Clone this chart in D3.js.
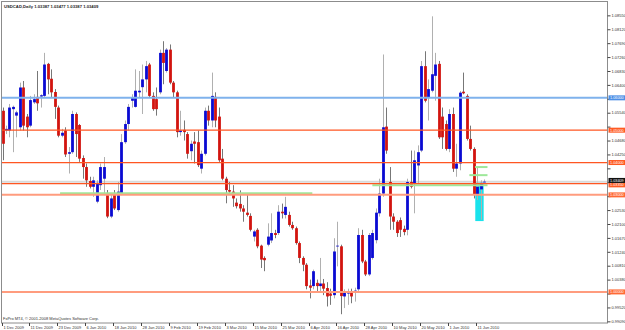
<!DOCTYPE html>
<html>
<head>
<meta charset="utf-8">
<script src="https://cdnjs.cloudflare.com/ajax/libs/d3/7.8.5/d3.min.js"></script>
<style>
  body { margin: 0; background: #fff; }
  svg { display: block; }
  text { font-family: "Liberation Sans", Arial, sans-serif; }
</style>
</head>
<body>
<div id="chart"></div>
<script>
// daily bars, USDCAD 1 Dec 2009 .. 15 Jun 2010
var opens = [1.0560,1.0499,1.0499,1.0565,1.0545,1.0509,1.0632,1.0542,1.0514,1.0586,
  1.0603,1.0604,1.0606,1.0705,1.0659,1.0618,1.0570,1.0483,1.0499,1.0427,
  1.0432,1.0550,1.0516,1.0414,1.0386,1.0343,1.0325,1.0279,1.0330,1.0350,
  1.0304,1.0233,1.0304,1.0253,1.0304,1.0463,1.0519,1.0591,1.0572,1.0617,
  1.0633,1.0657,1.0703,1.0606,1.0596,1.0617,1.0739,1.0683,1.0749,1.0647,
  1.0617,1.0494,1.0501,1.0488,1.0435,1.0465,1.0463,1.0381,1.0427,1.0560,
  1.0530,1.0603,1.0542,1.0412,1.0350,1.0315,1.0310,1.0276,1.0272,1.0258,
  1.0245,1.0235,1.0171,1.0192,1.0143,1.0105,1.0146,1.0159,1.0182,1.0182,
  1.0248,1.0238,1.0238,1.0207,1.0197,1.0151,1.0105,1.0084,1.0020,1.0018,
  1.0028,1.0018,1.0026,1.0012,0.9995,0.9990,1.0141,1.0141,0.9986,0.9995,
  1.0001,0.9998,1.0008,1.0176,1.0094,1.0054,1.0105,1.0160,1.0243,1.0304,
  1.0511,1.0340,1.0233,1.0217,1.0222,1.0195,1.0192,1.0340,1.0335,1.0391,
  1.0437,1.0698,1.0601,1.0622,1.0668,1.0705,1.0542,1.0519,1.0442,1.0550,
  1.0381,1.0397,1.0619,1.0606,1.0473,1.0442,1.0299,1.0317,1.03387];
var highs = [1.0570,1.0514,1.0581,1.0576,1.0560,1.0647,1.0652,1.0550,1.0606,1.0611,
  1.0683,1.0611,1.0739,1.0708,1.0688,1.0627,1.0576,1.0504,1.0509,1.0448,
  1.0560,1.0555,1.0519,1.0422,1.0397,1.0356,1.0356,1.0345,1.0397,1.0417,
  1.0315,1.0304,1.0315,1.0340,1.0488,1.0530,1.0581,1.0611,1.0688,1.0683,
  1.0703,1.0714,1.0708,1.0617,1.0632,1.0749,1.0775,1.0754,1.0765,1.0652,
  1.0622,1.0560,1.0530,1.0494,1.0468,1.0494,1.0499,1.0437,1.0570,1.0576,
  1.0678,1.0617,1.0570,1.0442,1.0356,1.0340,1.0330,1.0289,1.0314,1.0268,
  1.0304,1.0243,1.0192,1.0197,1.0146,1.0110,1.0212,1.0243,1.0192,1.0268,
  1.0273,1.0294,1.0248,1.0217,1.0202,1.0156,1.0110,1.0089,1.0038,1.0069,
  1.0038,1.0105,1.0040,1.0030,1.0010,1.0166,1.0217,1.0146,1.0008,1.0010,
  1.0010,1.0013,1.0197,1.0192,1.0099,1.0182,1.0192,1.0258,1.0350,1.0734,
  1.0570,1.0386,1.0243,1.0222,1.0230,1.0205,1.0350,1.0437,1.0437,1.0453,
  1.0714,1.0744,1.0657,1.0852,1.0739,1.0714,1.0570,1.0530,1.0565,1.0570,
  1.0458,1.0621,1.0678,1.0611,1.0514,1.0447,1.0386,1.0345,1.03477];
var lows = [1.0407,1.0488,1.0478,1.0432,1.0478,1.0499,1.0499,1.0478,1.0509,1.0581,
  1.0560,1.0570,1.0601,1.0611,1.0601,1.0535,1.0478,1.0478,1.0417,1.0366,
  1.0427,1.0417,1.0402,1.0350,1.0325,1.0320,1.0294,1.0274,1.0315,1.0299,
  1.0228,1.0228,1.0253,1.0248,1.0299,1.0458,1.0499,1.0570,1.0570,1.0601,
  1.0550,1.0617,1.0601,1.0560,1.0545,1.0611,1.0642,1.0678,1.0642,1.0601,
  1.0478,1.0483,1.0468,1.0412,1.0407,1.0397,1.0386,1.0366,1.0422,1.0514,
  1.0509,1.0509,1.0402,1.0345,1.0274,1.0304,1.0263,1.0258,1.0248,1.0217,
  1.0233,1.0187,1.0156,1.0135,1.0074,1.0064,1.0141,1.0151,1.0166,1.0176,
  1.0227,1.0227,1.0202,1.0192,1.0146,1.0089,1.0064,1.0008,0.9980,1.0008,
  1.0002,0.9997,0.9990,0.9955,0.9960,0.9980,1.0079,0.9931,0.9950,0.9960,
  0.9965,0.9970,1.0002,1.0089,1.0049,1.0049,1.0100,1.0150,1.0233,1.0294,
  1.0427,1.0192,1.0192,1.0170,1.0170,1.0175,1.0175,1.0320,1.0243,1.0335,
  1.0432,1.0586,1.0530,1.0617,1.0591,1.0473,1.0442,1.0437,1.0432,1.0371,
  1.0356,1.0376,1.0611,1.0468,1.0437,1.0289,1.0284,1.0223,1.03387];
var closes = [1.0458,1.0504,1.0570,1.0572,1.0555,1.0632,1.0514,1.0509,1.0593,1.0596,
  1.0583,1.0608,1.0703,1.0657,1.0617,1.0572,1.0483,1.0492,1.0425,1.0432,
  1.0550,1.0488,1.0412,1.0386,1.0345,1.0325,1.0345,1.0337,1.0386,1.0386,
  1.0233,1.0289,1.0258,1.0310,1.0463,1.0519,1.0572,1.0601,1.0622,1.0622,
  1.0657,1.0698,1.0606,1.0565,1.0565,1.0739,1.0708,1.0749,1.0647,1.0617,
  1.0494,1.0499,1.0494,1.0427,1.0458,1.0458,1.0392,1.0427,1.0560,1.0530,
  1.0606,1.0530,1.0407,1.0350,1.0315,1.0310,1.0289,1.0265,1.0258,1.0248,
  1.0238,1.0192,1.0187,1.0141,1.0100,1.0098,1.0171,1.0182,1.0176,1.0248,
  1.0243,1.0263,1.0207,1.0197,1.0151,1.0105,1.0084,1.0018,1.0013,1.0064,
  1.0018,1.0026,1.0010,0.9986,0.9988,1.0125,1.0143,0.9987,1.0001,1.0002,
  0.9986,1.0004,1.0176,1.0094,1.0054,1.0176,1.0182,1.0245,1.0304,1.0509,
  1.0437,1.0233,1.0217,1.0182,1.0192,1.0185,1.0340,1.0325,1.0407,1.0432,
  1.0698,1.0591,1.0627,1.0673,1.0703,1.0478,1.0478,1.0442,1.0550,1.0381,
  1.0397,1.0616,1.0614,1.0473,1.0442,1.0302,1.0325,1.0337,1.03409];

var dateTickBars = [0,8,16,24,32,40,48,56,64,72,80,88,96,104,112,120,128,136];
var dateTickLabels = ["1 Dec 2009","11 Dec 2009","23 Dec 2009","6 Jan 2010","18 Jan 2010",
  "28 Jan 2010","9 Feb 2010","19 Feb 2010","3 Mar 2010","15 Mar 2010","25 Mar 2010",
  "6 Apr 2010","16 Apr 2010","28 Apr 2010","10 May 2010","20 May 2010","1 Jun 2010","11 Jun 2010"];

var priceTicks = [0.99090,0.99520,0.99950,1.00380,1.00810,1.01240,1.01670,1.02100,1.02530,
  1.02960,1.03390,1.03820,1.04250,1.04680,1.05110,1.05540,1.05970,1.06400,1.06830,
  1.07260,1.07690,1.08120,1.08550];

// horizontal lines drawn on the chart
var levelPrices = [1.0600, 1.0500, 1.0400, 1.0335, 1.0300, 1.0000];
var levelKinds = ["blue", "red", "red", "red", "salmon", "salmon"];
var bidPrice = 1.03409;
var titleText = "USDCAD,Daily  1.03387 1.03477 1.03387 1.03409";
var footText = "FxPro MT4, \u00a9 2001-2008 MetaQuotes Software Corp.";

// green trend segments: from bar, to bar, price
var greenFrom = [16.5, 106, 135.4, 133.8];
var greenTo = [88.8, 139, 139, 139];
var greenPrice = [1.0305, 1.0330, 1.0386, 1.0361];
// cyan rectangle: bars and prices
var boxBars = [135.5, 137.9];
var boxPrices = [1.0342, 1.0219];

var W = 625, H = 330;
var plotL = 1.5, plotR = 607.5, plotT = 1.5, plotB = 323;

var svg = d3.select("#chart").append("svg")
  .attr("width", W).attr("height", H);

svg.append("rect").attr("width", W).attr("height", H).attr("fill", "#fff");

var x = d3.scaleLinear().domain([0, 138]).range([2.5, 484]);
var y = d3.scaleLinear().domain([0.99039, 1.08870]).range([323, 5]);

var plot = svg.append("g");

// cyan box (behind the bars)
plot.append("rect")
  .attr("x", x(boxBars[0])).attr("y", y(boxPrices[0]))
  .attr("width", x(boxBars[1]) - x(boxBars[0]))
  .attr("height", y(boxPrices[1]) - y(boxPrices[0]))
  .attr("fill", "#19e3ec");

// bid line
plot.append("line")
  .attr("x1", plotL).attr("x2", plotR)
  .attr("y1", y(bidPrice)).attr("y2", y(bidPrice))
  .attr("stroke", "#d9d9d9").attr("stroke-width", 2);

var bars = d3.range(opens.length);

// wicks
plot.selectAll(".wick").data(bars).enter().append("line")
  .attr("class", "wick")
  .attr("x1", function(i) { return Math.round(x(i)) + 0.5; })
  .attr("x2", function(i) { return Math.round(x(i)) + 0.5; })
  .attr("y1", function(i) { return y(highs[i]); })
  .attr("y2", function(i) { return y(lows[i]); })
  .attr("stroke", function(i) { return closes[i] >= opens[i] ? "#b0b0b0" : "#777"; })
  .attr("stroke-width", 1);

// bodies
plot.selectAll(".body").data(bars).enter().append("rect")
  .attr("class", "body")
  .attr("x", function(i) { return Math.round(x(i)) + 0.5 - 1.4; })
  .attr("width", 2.8)
  .attr("y", function(i) { return y(Math.max(opens[i], closes[i])); })
  .attr("height", function(i) { return Math.max(0.8, Math.abs(y(opens[i]) - y(closes[i]))); })
  .attr("fill", function(i) { return closes[i] >= opens[i] ? "#0a0ad2" : "#d2140f"; });

// green segments
plot.selectAll(".green").data(greenPrice).enter().append("line")
  .attr("x1", function(d, k) { return x(greenFrom[k]); })
  .attr("x2", function(d, k) { return Math.min(plotR, x(greenTo[k])); })
  .attr("y1", function(d) { return y(d); })
  .attr("y2", function(d) { return y(d); })
  .attr("stroke", "#9ee89a").attr("stroke-width", 2);

// level lines
var lineColor = { blue: "#7fb2ec", red: "#ff5622", salmon: "#ff9c7e" };
var lineWidth = { blue: 2, red: 1.2, salmon: 2 };
plot.selectAll(".level").data(levelPrices).enter().append("line")
  .attr("x1", plotL).attr("x2", plotR)
  .attr("y1", function(d) { return y(d); })
  .attr("y2", function(d) { return y(d); })
  .attr("stroke", function(d, k) { return lineColor[levelKinds[k]]; })
  .attr("stroke-width", function(d, k) { return lineWidth[levelKinds[k]]; });

// frame
svg.append("rect")
  .attr("x", plotL).attr("y", plotT)
  .attr("width", plotR - plotL).attr("height", plotB - plotT)
  .attr("fill", "none").attr("stroke", "#8c8c8c").attr("stroke-width", 1);

// price axis; labels covered by a price tag are left out, as in the terminal
var tagPrices = levelPrices.concat([bidPrice]);
function covered(p) {
  return tagPrices.some(function(t) { return Math.abs(y(t) - y(p)) < 6.5; });
}
var yAxis = d3.axisRight(y).tickValues(priceTicks)
  .tickSize(3).tickPadding(1)
  .tickFormat(function(d) { return covered(d) ? "" : d.toFixed(5); });
var ax = svg.append("g").attr("transform", "translate(" + plotR + ",0)").call(yAxis);
ax.select(".domain").remove();
ax.selectAll("line").attr("stroke", "#444");
ax.selectAll("text").attr("font-size", 4).attr("fill", "#333");

// price labels of the lines
var tagColor = { blue: "#4d8fe6", red: "#ff5a22", salmon: "#ff6a36" };
function tag(p, fill, shift) {
  var g = svg.append("g").attr("transform", "translate(" + (plotR + 1) + "," + (y(p) + shift) + ")");
  g.append("rect").attr("x", 0).attr("y", -2.5).attr("width", 18).attr("height", 5).attr("fill", fill);
  g.append("text").attr("x", 1.5).attr("y", 1.4).attr("font-size", 3.8)
    .attr("fill", "#fff").text(p.toFixed(5));
}
levelPrices.forEach(function(p, k) {
  tag(p, tagColor[levelKinds[k]], k === 3 ? 1.3 : 0);
});
tag(bidPrice, "#111", -1.2);

// time axis
var tx = svg.append("g");
tx.selectAll("line").data(dateTickBars).enter().append("line")
  .attr("x1", function(i) { return Math.round(x(i)) - 0.5; })
  .attr("x2", function(i) { return Math.round(x(i)) - 0.5; })
  .attr("y1", plotB).attr("y2", plotB + 3)
  .attr("stroke", "#444");
tx.selectAll("text").data(dateTickBars).enter().append("text")
  .attr("x", function(i) { return Math.round(x(i)) + 0.5; })
  .attr("y", 328.5)
  .attr("font-size", 4).attr("fill", "#333")
  .text(function(d, k) { return dateTickLabels[k]; });

// title and copyright
svg.append("text").attr("x", 4).attr("y", 8).attr("font-size", 4.2)
  .attr("font-weight", "bold").attr("fill", "#222").text(titleText);
svg.append("text").attr("x", 3).attr("y", 320).attr("font-size", 4)
  .attr("fill", "#333").text(footText);
</script>
</body>
</html>
